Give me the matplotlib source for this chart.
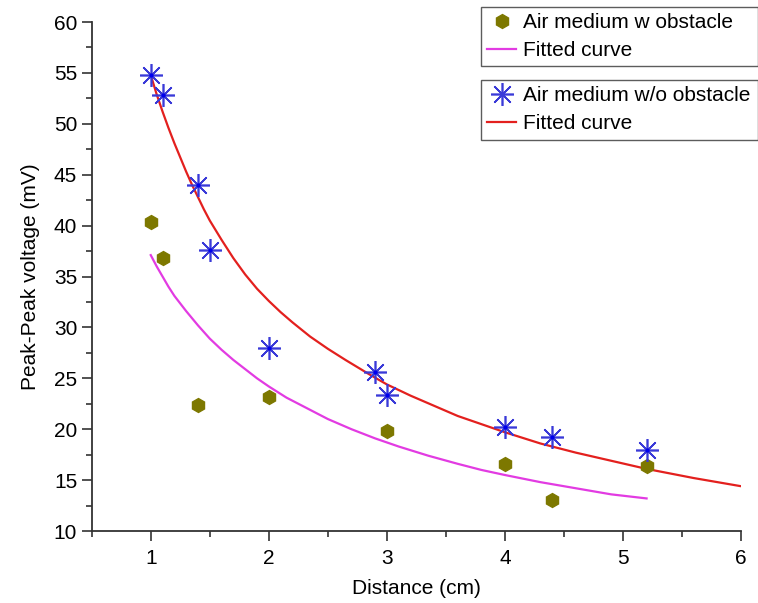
import matplotlib
matplotlib.use('Agg')
import matplotlib.pyplot as plt
from matplotlib.ticker import MultipleLocator

plt.rcParams['font.family'] = ['Liberation Sans', 'DejaVu Sans']

# measured points
dist_obst = [1.0, 1.1, 1.4, 2.0, 3.0, 4.0, 4.4, 5.2]
volt_obst = [40.4, 36.8, 22.4, 23.2, 19.8, 16.6, 13.0, 16.4]

dist_free = [1.0, 1.1, 1.4, 1.5, 2.0, 2.9, 3.0, 4.0, 4.4, 5.2]
volt_free = [54.8, 52.8, 44.0, 37.6, 28.0, 25.6, 23.4, 20.2, 19.2, 18.0]

# fitted curves
fit_obst_x = [1.0, 1.05, 1.1, 1.15, 1.2, 1.3, 1.4, 1.5, 1.6, 1.7, 1.8, 1.9, 2.0,
              2.15, 2.3, 2.5, 2.7, 2.9, 3.1, 3.35, 3.6, 3.8, 4.0, 4.3, 4.6, 4.9, 5.2]
fit_obst_y = [37.1, 36.0, 35.0, 34.0, 33.1, 31.6, 30.2, 28.9, 27.8, 26.8, 25.9, 25.0,
              24.2, 23.1, 22.2, 21.0, 20.0, 19.1, 18.3, 17.4, 16.6, 16.0, 15.5, 14.8,
              14.2, 13.6, 13.2]

fit_free_x = [1.0, 1.05, 1.1, 1.15, 1.2, 1.25, 1.3, 1.35, 1.4, 1.45, 1.5, 1.6, 1.7,
              1.8, 1.9, 2.0, 2.1, 2.2, 2.35, 2.5, 2.65, 2.85, 3.0, 3.2, 3.4, 3.6,
              3.8, 4.0, 4.3, 4.6, 4.9, 5.2, 5.6, 6.0]
fit_free_y = [54.8, 52.9, 51.2, 49.6, 48.1, 46.7, 45.3, 44.0, 42.8, 41.6, 40.5, 38.6,
              36.8, 35.2, 33.8, 32.6, 31.5, 30.5, 29.1, 27.9, 26.8, 25.4, 24.4, 23.3,
              22.3, 21.3, 20.5, 19.7, 18.6, 17.7, 16.9, 16.1, 15.2, 14.4]

fig = plt.figure(figsize=(7.58, 6.03), dpi=100)
ax = fig.add_axes([0.121, 0.1194, 0.8566, 0.8441])

magenta = '#e23be2'
red = '#e3201e'
olive = '#7d7800'
blue = '#3a3ad8'

ln_fit_o, = ax.plot(fit_obst_x, fit_obst_y, color=magenta, lw=1.6, zorder=2)
ln_fit_f, = ax.plot(fit_free_x, fit_free_y, color=red, lw=1.6, zorder=2)

pt_o, = ax.plot(dist_obst, volt_obst, ls='none', marker='h', ms=10,
                color=olive, mec=olive, zorder=3)
pt_f, = ax.plot(dist_free, volt_free, ls='none', marker=(8, 2, 0), ms=16.5,
                mec=blue, mew=1.2, color=blue, zorder=4)
ax.plot(dist_free, volt_free, ls='none', marker='o', ms=3, color='#0000ee',
        mec='none', zorder=5)

ax.set_xlim(0.5, 6)
ax.set_ylim(10, 60)
ax.xaxis.set_major_locator(MultipleLocator(1))
ax.xaxis.set_minor_locator(MultipleLocator(0.5))
ax.yaxis.set_major_locator(MultipleLocator(5))
ax.yaxis.set_minor_locator(MultipleLocator(2.5))
ax.tick_params(which='major', direction='out', length=7, width=1.2, labelsize=15,
               color='#333333')
ax.tick_params(which='minor', direction='out', length=4, width=1.2, color='#333333')
ax.tick_params(axis='x', pad=6)
for s in ['top', 'right']:
    ax.spines[s].set_visible(False)
for s in ['left', 'bottom']:
    ax.spines[s].set_linewidth(1.3)
    ax.spines[s].set_color('#333333')

ax.set_xlabel('Distance (cm)', fontsize=15, labelpad=8)
ax.set_ylabel('Peak-Peak voltage (mV)', fontsize=15, labelpad=10)

leg_kw = dict(loc='upper left', bbox_transform=fig.transFigure, fontsize=15,
              frameon=True, fancybox=False, edgecolor='#333333', borderpad=0.3,
              handlelength=1.4, handletextpad=0.3, labelspacing=0.43,
              borderaxespad=0, mode='expand')
leg1 = ax.legend([pt_o, ln_fit_o], ['Air medium w obstacle', 'Fitted curve'],
                 bbox_to_anchor=(0.6346, 0.889, 0.365, 0.1), **leg_kw)
leg1.get_frame().set_linewidth(1.0)
ax.add_artist(leg1)
leg2 = ax.legend([pt_f, ln_fit_f], ['Air medium w/o obstacle', 'Fitted curve'],
                 bbox_to_anchor=(0.6346, 0.767, 0.365, 0.1), **leg_kw)
leg2.get_frame().set_linewidth(1.0)

plt.savefig('out.png', dpi=100)
